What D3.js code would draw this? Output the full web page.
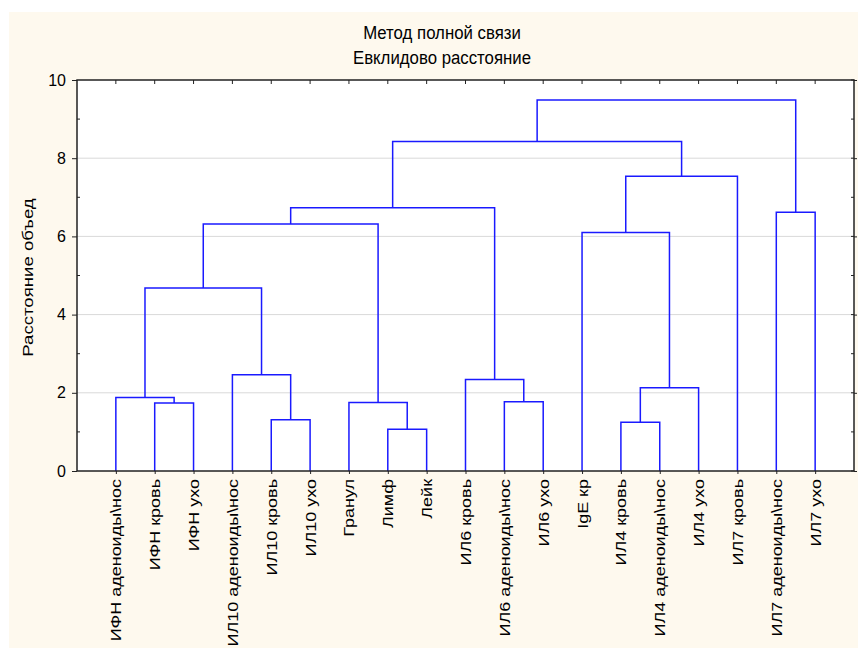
<!DOCTYPE html>
<html>
<head>
<meta charset="utf-8">
<script src="https://cdn.jsdelivr.net/npm/d3@7"></script>
<style>
  html, body { margin: 0; padding: 0; background: #ffffff; }
  svg text { font-family: "Liberation Sans", Arial, sans-serif; fill: #000; }
</style>
</head>
<body>
<svg id="chart" width="858" height="648"></svg>
<script>
// Leaf order along the horizontal axis
const leaves = [
  "ИФН аденоиды\\нос", "ИФН кровь", "ИФН ухо",
  "ИЛ10 аденоиды\\нос", "ИЛ10 кровь", "ИЛ10 ухо",
  "Гранул", "Лимф", "Лейк",
  "ИЛ6 кровь", "ИЛ6 аденоиды\\нос", "ИЛ6 ухо",
  "IgE кр", "ИЛ4 кровь", "ИЛ4 аденоиды\\нос", "ИЛ4 ухо",
  "ИЛ7 кровь", "ИЛ7 аденоиды\\нос", "ИЛ7 ухо"
];

// Merge steps: members are leaf names or "#k" for the k-th earlier merge
const mergeLeft  = ["ИЛ4 кровь", "Лимф", "ИЛ10 кровь", "ИФН кровь", "Гранул", "ИЛ6 аденоиды\\нос",
                    "ИФН аденоиды\\нос", "#0", "ИЛ6 кровь", "ИЛ10 аденоиды\\нос", "#6", "IgE кр",
                    "#10", "ИЛ7 аденоиды\\нос", "#12", "#11", "#14", "#16"];
const mergeRight = ["ИЛ4 аденоиды\\нос", "Лейк", "ИЛ10 ухо", "ИФН ухо", "#1", "ИЛ6 ухо",
                    "#3", "ИЛ4 ухо", "#5", "#2", "#9", "#7",
                    "#4", "ИЛ7 ухо", "#8", "ИЛ7 кровь", "#15", "#13"];
const mergeDist  = [1.25, 1.07, 1.31, 1.74, 1.75, 1.77,
                    1.88, 2.13, 2.34, 2.46, 4.68, 6.10,
                    6.32, 6.62, 6.73, 7.54, 8.43, 9.49];

const yTicks = [0, 2, 4, 6, 8, 10];
const yMinorTicks = [1, 3, 5, 7, 9];
const titleLines = ["Метод полной связи", "Евклидово расстояние"];
const yLabel = "Расстояние объед";

const svg = d3.select("#chart");
const W = 858, H = 648;
const plot = { left: 77, right: 854, top: 80, bottom: 471 };

// Panel background
svg.append("rect").attr("x", 9).attr("y", 12).attr("width", W - 9).attr("height", H - 12)
  .attr("fill", "#fef9ee");
svg.append("rect").attr("x", plot.left).attr("y", plot.top)
  .attr("width", plot.right - plot.left).attr("height", plot.bottom - plot.top)
  .attr("fill", "#ffffff");

const x = d3.scalePoint().domain(leaves).range([plot.left, plot.right]).padding(1);
const y = d3.scaleLinear().domain([0, 10]).range([plot.bottom, plot.top]);

// Grid lines
svg.append("g").selectAll("line").data(yTicks.filter(v => v > 0 && v < 10)).join("line")
  .attr("x1", plot.left).attr("x2", plot.right)
  .attr("y1", d => y(d)).attr("y2", d => y(d))
  .attr("stroke", "#d9d9d9").attr("stroke-width", 1);

// Dendrogram links
const nodes = [];
function pos(key) {
  if (key.startsWith("#")) return nodes[+key.slice(1)];
  return { x: x(key), h: 0 };
}
const linkG = svg.append("g").attr("fill", "none").attr("stroke", "#1a1aff").attr("stroke-width", 1.5);
mergeDist.forEach((d, i) => {
  const a = pos(mergeLeft[i]), b = pos(mergeRight[i]);
  const node = { x: (a.x + b.x) / 2, h: d };
  nodes.push(node);
  const path = d3.path();
  path.moveTo(a.x, y(a.h));
  path.lineTo(a.x, y(d));
  path.lineTo(b.x, y(d));
  path.lineTo(b.x, y(b.h));
  linkG.append("path").attr("d", path.toString());
});

// Frame
svg.append("rect").attr("x", plot.left).attr("y", plot.top)
  .attr("width", plot.right - plot.left).attr("height", plot.bottom - plot.top)
  .attr("fill", "none").attr("stroke", "#222").attr("stroke-width", 1.5);

// Left axis
const yAxisL = d3.axisLeft(y).tickValues(yTicks).tickSize(5).tickPadding(6).tickFormat(d3.format("d"));
const gl = svg.append("g").attr("transform", `translate(${plot.left},0)`).call(yAxisL);
gl.select(".domain").remove();
gl.selectAll(".tick line").attr("stroke", "#222");
gl.selectAll(".tick text").style("font-size", "16px").attr("fill", "#000");
svg.append("g").selectAll("line").data(yMinorTicks).join("line")
  .attr("x1", plot.left).attr("x2", plot.left + 3)
  .attr("y1", d => y(d)).attr("y2", d => y(d)).attr("stroke", "#222");

// Right axis ticks
const yAxisR = d3.axisRight(y).tickValues(yTicks).tickSize(3).tickFormat("");
const gr = svg.append("g").attr("transform", `translate(${plot.right},0)`).call(yAxisR);
gr.select(".domain").remove();
gr.selectAll(".tick line").attr("stroke", "#222");
svg.append("g").selectAll("line").data(yTicks.concat(yMinorTicks)).join("line")
  .attr("x1", plot.right - 3).attr("x2", plot.right)
  .attr("y1", d => y(d)).attr("y2", d => y(d)).attr("stroke", "#222");

// Top ticks (inward)
svg.append("g").selectAll("line").data(leaves).join("line")
  .attr("x1", d => x(d)).attr("x2", d => x(d))
  .attr("y1", plot.top).attr("y2", plot.top + 4).attr("stroke", "#222");

// Bottom axis with rotated labels
const xAxis = d3.axisBottom(x).tickSize(3).tickPadding(0);
const gb = svg.append("g").attr("transform", `translate(0,${plot.bottom})`).call(xAxis);
gb.select(".domain").remove();
gb.selectAll(".tick line").attr("stroke", "#222");
gb.selectAll(".tick text")
  .style("font-size", "15px")
  .attr("text-anchor", "end")
  .attr("dy", null)
  .attr("y", 0)
  .attr("transform", "translate(5,8) rotate(-90) scale(1.2,1)")
  .attr("fill", "#000");

// Titles
svg.append("g").selectAll("text").data(titleLines).join("text")
  .attr("transform", (d, i) => `translate(442,${39 + i * 25}) scale(1.05,1.15)`)
  .attr("text-anchor", "middle")
  .style("font-size", "16px")
  .text(d => d);

// Y axis title
svg.append("text")
  .attr("transform", `translate(33,${(plot.top + plot.bottom) / 2 + 2}) rotate(-90) scale(1.2,1)`)
  .attr("text-anchor", "middle")
  .style("font-size", "15.5px")
  .text(yLabel);
</script>
</body>
</html>
